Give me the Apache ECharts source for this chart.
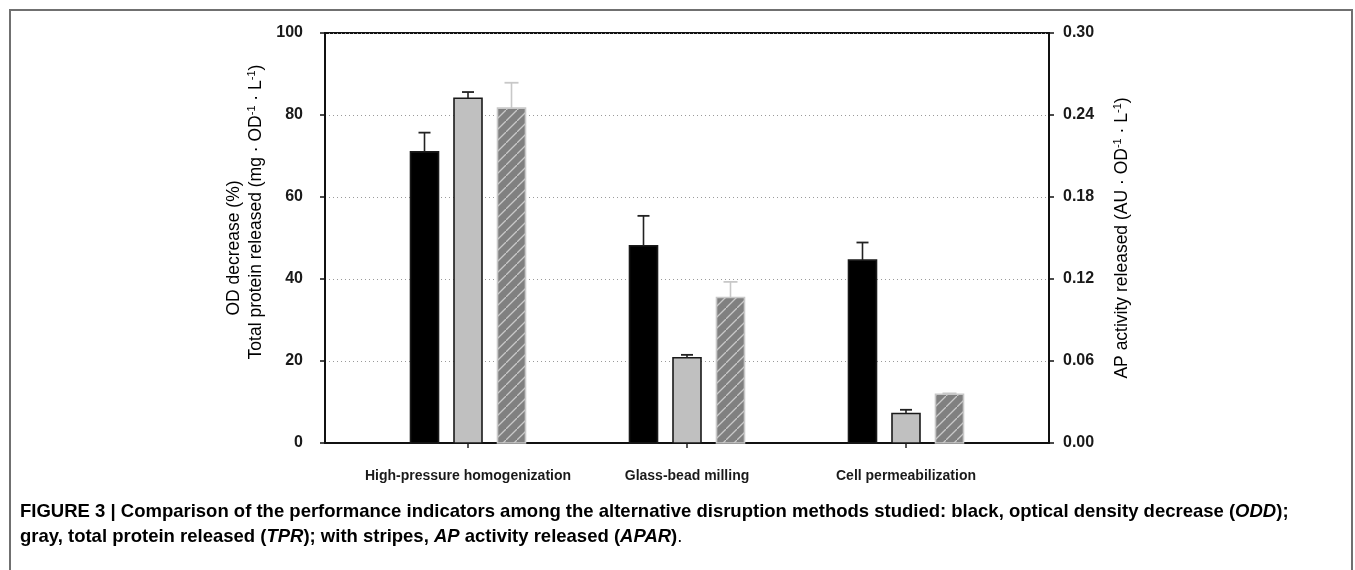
<!DOCTYPE html>
<html>
<head>
<meta charset="utf-8">
<script src="https://cdn.jsdelivr.net/npm/echarts@6/dist/echarts.min.js"></script>
<style>
  html, body { margin: 0; padding: 0; background: #ffffff; }
  #chart { width: 1355px; height: 570px; }
</style>
</head>
<body>
<div id="chart"></div>
<script>
// Disruption methods compared
const categories = ['High-pressure homogenization', 'Glass-bead milling', 'Cell permeabilization'];

// Optical density decrease, ODD (%), left axis
const odDecrease    = [71.0, 48.1, 44.6];
const odDecreaseErr = [4.7, 7.3, 4.3];

// Total protein released, TPR (mg·OD-1·L-1), left axis
const proteinReleased    = [84.1, 20.8, 7.2];
const proteinReleasedErr = [1.5, 0.7, 0.9];

// AP activity released, APAR (AU·OD-1·L-1), right axis
const apActivity    = [0.245, 0.1065, 0.0357];
const apActivityErr = [0.0186, 0.0114, 0.0006];

// Axis ranges and tick steps
const leftAxisRange  = [0, 100];
const leftAxisStep   = 20;
const rightAxisRange = [0, 0.30];
const rightAxisStep  = 0.06;

const FONT = '"Liberation Sans", Arial, Helvetica, sans-serif';
const BAR_W = 28;      // bar width, px
const BAR_STEP = 43.5; // distance between bar centres inside a group, px

// diagonal stripe fill for the APAR bars
function stripePattern() {
  const s = 11;
  const c = document.createElement('canvas');
  c.width = s; c.height = s;
  const g = c.getContext('2d');
  g.fillStyle = '#808080';
  g.fillRect(0, 0, s, s);
  g.strokeStyle = '#c9c9c9';
  g.lineWidth = 1.3;
  g.beginPath();
  g.moveTo(-1, s + 1); g.lineTo(s + 1, -1);
  g.moveTo(-2, 1); g.lineTo(1, -2);
  g.moveTo(s - 1, s + 2); g.lineTo(s + 2, s - 1);
  g.stroke();
  return { image: c, repeat: 'repeat' };
}

function toItems(values, errs) {
  return values.map((v, i) => [i, v, errs[i]]);
}

// bar with an upper error whisker
function barWithError(offsetPx, fill, stroke, errColor, capHalf) {
  return function (params, api) {
    const i = api.value(0), v = api.value(1), e = api.value(2);
    const base = api.coord([i, 0]);
    const cx = base[0] + offsetPx;
    const top = api.coord([i, v])[1];
    const errTop = api.coord([i, v + e])[1];
    return {
      type: 'group',
      children: [
        {
          type: 'rect',
          shape: { x: cx - BAR_W / 2, y: top, width: BAR_W, height: base[1] - top },
          style: { fill: fill, stroke: stroke, lineWidth: 1.6 }
        },
        {
          type: 'line',
          shape: { x1: cx, y1: top, x2: cx, y2: errTop },
          style: { stroke: errColor, lineWidth: 1.6 }
        },
        {
          type: 'line',
          shape: { x1: cx - capHalf, y1: errTop, x2: cx + capHalf, y2: errTop },
          style: { stroke: errColor, lineWidth: 1.8 }
        }
      ]
    };
  };
}

const chart = echarts.init(document.getElementById('chart'), null, { renderer: 'canvas' });

const supRich = {
  n: { fontFamily: FONT, fontSize: 17.5, color: '#1a1a1a', lineHeight: 24 },
  s: { fontFamily: FONT, fontSize: 11, color: '#1a1a1a', lineHeight: 24, verticalAlign: 'top', padding: [2, 0, 0, 0] }
};

const captionRich = {
  b:  { fontFamily: FONT, fontSize: 18.5, fontWeight: 'bold', color: '#231f20' },
  bi: { fontFamily: FONT, fontSize: 18.5, fontWeight: 'bold', fontStyle: 'italic', color: '#231f20' },
  n:  { fontFamily: FONT, fontSize: 18.5, color: '#231f20' }
};

chart.setOption({
  animation: false,
  backgroundColor: '#ffffff',
  grid: {
    left: 325, top: 33, width: 724, height: 410,
    show: true, borderColor: '#111111', borderWidth: 2, backgroundColor: 'transparent'
  },
  xAxis: {
    type: 'value',
    min: -0.653, max: 2.653,
    axisLine: { show: true, onZero: false, lineStyle: { color: '#111111', width: 2 } },
    axisTick: { show: true, inside: false, length: 5, customValues: [0, 1, 2], lineStyle: { color: '#222222', width: 1.5 } },
    axisLabel: {
      customValues: [0, 1, 2],
      formatter: v => categories[Math.round(v)] || '',
      fontFamily: FONT, fontSize: 14, fontWeight: 'bold', color: '#1a1a1a', margin: 26
    },
    splitLine: { show: false }
  },
  yAxis: [
    {
      type: 'value',
      position: 'left',
      min: leftAxisRange[0], max: leftAxisRange[1], interval: leftAxisStep,
      axisLine: { show: true, onZero: false, lineStyle: { color: '#111111', width: 2 } },
      axisTick: { show: true, inside: false, length: 5, lineStyle: { color: '#111111', width: 1.5 } },
      axisLabel: { fontFamily: FONT, fontSize: 16, fontWeight: 'bold', color: '#1a1a1a', margin: 22 },
      splitLine: { show: true, lineStyle: { color: '#9a9a9a', width: 1, type: [1, 3] } }
    },
    {
      type: 'value',
      position: 'right',
      min: rightAxisRange[0], max: rightAxisRange[1], interval: rightAxisStep,
      axisLine: { show: true, onZero: false, lineStyle: { color: '#111111', width: 2 } },
      axisTick: { show: true, inside: false, length: 5, lineStyle: { color: '#111111', width: 1.5 } },
      axisLabel: {
        fontFamily: FONT, fontSize: 16, fontWeight: 'bold', color: '#1a1a1a', margin: 14,
        formatter: v => v.toFixed(2)
      },
      splitLine: { show: false }
    }
  ],
  series: [
    {
      name: 'ODD', type: 'custom', xAxisIndex: 0, yAxisIndex: 0, clip: false,
      encode: { x: 0, y: 1 },
      renderItem: barWithError(-BAR_STEP, '#000000', '#1a1a1a', '#222222', 6),
      data: toItems(odDecrease, odDecreaseErr), z: 3
    },
    {
      name: 'TPR', type: 'custom', xAxisIndex: 0, yAxisIndex: 0, clip: false,
      encode: { x: 0, y: 1 },
      renderItem: barWithError(0, '#c0c0c0', '#1a1a1a', '#222222', 6),
      data: toItems(proteinReleased, proteinReleasedErr), z: 3
    },
    {
      name: 'APAR', type: 'custom', xAxisIndex: 0, yAxisIndex: 1, clip: false,
      encode: { x: 0, y: 1 },
      renderItem: barWithError(BAR_STEP, stripePattern(), '#c8c8c8', '#c8c8c8', 7),
      data: toItems(apActivity, apActivityErr), z: 3
    }
  ],
  graphic: [
    // panel frame
    {
      type: 'rect', z: -10, silent: true,
      shape: { x: 10, y: 10, width: 1342, height: 700 },
      style: { fill: 'none', stroke: '#707070', lineWidth: 2 }
    },
    // left axis title, two lines
    {
      type: 'text', x: 234, y: 248, rotation: Math.PI / 2,
      style: { text: '{n|OD decrease (%)}', rich: supRich, align: 'center', verticalAlign: 'middle' }
    },
    {
      type: 'text', x: 256, y: 212, rotation: Math.PI / 2,
      style: {
        text: '{n|Total protein released (mg · OD}{s|-1}{n| · L}{s|-1}{n|)}',
        rich: supRich, align: 'center', verticalAlign: 'middle'
      }
    },
    // right axis title
    {
      type: 'text', x: 1122, y: 238, rotation: Math.PI / 2,
      style: {
        text: '{n|AP activity released (AU · OD}{s|-1}{n| · L}{s|-1}{n|)}',
        rich: supRich, align: 'center', verticalAlign: 'middle'
      }
    },
    // caption
    {
      type: 'text', x: 20, y: 512,
      style: {
        text: '{b|FIGURE 3 | Comparison of the performance indicators among the alternative disruption methods studied: black, optical density decrease (}{bi|ODD}{b|);}',
        rich: captionRich, align: 'left', verticalAlign: 'middle'
      }
    },
    {
      type: 'text', x: 20, y: 537,
      style: {
        text: '{b|gray, total protein released (}{bi|TPR}{b|); with stripes, }{bi|AP}{b| activity released (}{bi|APAR}{b|)}{n|.}',
        rich: captionRich, align: 'left', verticalAlign: 'middle'
      }
    }
  ]
});
</script>
</body>
</html>
